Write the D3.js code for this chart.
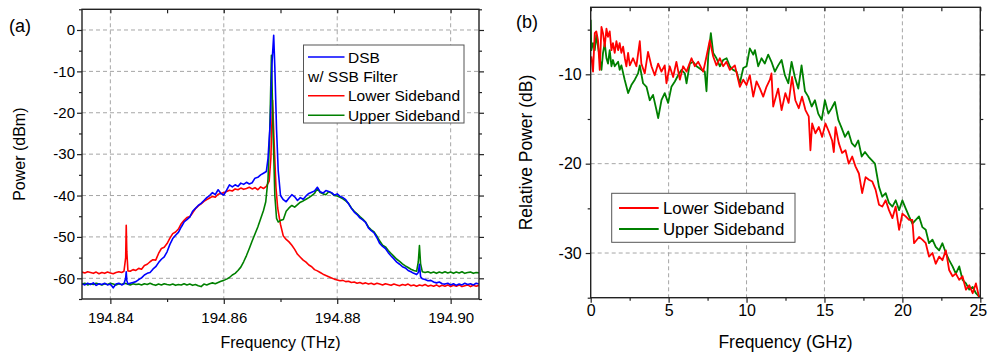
<!DOCTYPE html>
<html>
<head>
<meta charset="utf-8">
<script src="https://cdn.jsdelivr.net/npm/d3@7"></script>
<style>
body { margin: 0; background: #fff; }
svg { font-family: Arial, "Liberation Sans", sans-serif; }
.grid line { stroke: #a6a6a6; stroke-width: 1; stroke-dasharray: 4,3; }
.frame { fill: none; stroke: #222; stroke-width: 1.4; }
.tick line { stroke: #222; stroke-width: 1.2; }
.domain { display: none; }
.legend_box { fill: #fff; stroke: #555; stroke-width: 1; }
</style>
</head>
<body>
<div id="chart-area"></div>
<script>
//1. Data
// (a) optical spectra, [THz, dBm]
var dsb_a = [[194.8350,-61.3],[194.8355,-61.6],[194.8360,-61.2],[194.8365,-61.5],[194.8370,-61.1],[194.8375,-61.7],[194.8380,-61.3],[194.8385,-61.5],[194.8390,-61.2],[194.8395,-61.6],
    [194.8400,-61.4],[194.8405,-62.3],[194.8410,-61.4],[194.8415,-61.2],[194.8420,-61.6],[194.8424,-61.3],[194.8427,-60.0],[194.8428,-58.4],[194.8429,-60.5],[194.8431,-61.4],
    [194.8435,-61.2],[194.8440,-61.0],[194.8445,-60.8],[194.8450,-60.3],[194.8455,-59.9],[194.8460,-59.2],[194.8465,-58.8],[194.8470,-58.6],[194.8475,-57.8],[194.8480,-57.2],
    [194.8485,-56.2],[194.8490,-55.4],[194.8495,-54.8],[194.8500,-53.6],[194.8505,-51.8],[194.8510,-50.4],[194.8515,-49.6],[194.8520,-48.9],[194.8525,-47.6],[194.8530,-46.4],
    [194.8535,-45.8],[194.8540,-45.2],[194.8545,-43.8],[194.8550,-43.1],[194.8555,-42.4],[194.8560,-41.9],[194.8565,-41.2],[194.8570,-40.5],[194.8575,-40.0],[194.8580,-39.3],
    [194.8585,-39.8],[194.8590,-38.6],[194.8595,-39.5],[194.8600,-39.9],[194.8605,-38.7],[194.8610,-37.4],[194.8615,-37.9],[194.8620,-37.4],[194.8625,-37.8],[194.8630,-37.0],
    [194.8635,-37.3],[194.8640,-36.8],[194.8645,-37.2],[194.8650,-36.9],[194.8655,-35.8],[194.8660,-35.6],[194.8665,-35.0],[194.8670,-34.6],[194.8675,-34.2],[194.8678,-31.0],
    [194.8682,-22.0],[194.8685,-8.0],[194.8688,-1.3],[194.8690,-9.0],[194.8693,-24.0],[194.8696,-34.0],[194.8700,-40.0],[194.8705,-41.0],[194.8710,-41.5],[194.8715,-40.6],
    [194.8720,-39.8],[194.8725,-40.3],[194.8730,-41.2],[194.8735,-40.5],[194.8740,-40.9],[194.8745,-40.1],[194.8750,-39.5],[194.8755,-39.2],[194.8760,-38.9],[194.8765,-38.0],
    [194.8770,-39.1],[194.8775,-39.4],[194.8780,-38.8],[194.8785,-39.0],[194.8790,-39.3],[194.8795,-39.9],[194.8800,-39.6],[194.8805,-40.2],[194.8810,-40.5],[194.8815,-41.0],
    [194.8820,-42.0],[194.8825,-43.1],[194.8830,-44.0],[194.8835,-44.6],[194.8840,-45.4],[194.8845,-45.9],[194.8850,-46.5],[194.8855,-47.8],[194.8860,-48.5],[194.8865,-49.0],
    [194.8870,-50.2],[194.8875,-51.6],[194.8880,-52.3],[194.8885,-52.8],[194.8890,-53.8],[194.8895,-54.6],[194.8900,-55.3],[194.8905,-56.1],[194.8910,-56.6],[194.8915,-57.2],
    [194.8920,-57.5],[194.8925,-58.1],[194.8930,-58.4],[194.8935,-58.8],[194.8940,-59.1],[194.8943,-58.6],[194.8945,-56.6],[194.8947,-59.6],[194.8950,-60.1],[194.8955,-60.3],
    [194.8960,-60.6],[194.8965,-60.5],[194.8970,-60.9],[194.8975,-61.1],[194.8980,-60.9],[194.8985,-61.3],[194.8990,-61.4],[194.8995,-61.2],[194.9000,-61.6],[194.9005,-61.3],
    [194.9010,-61.7],[194.9015,-61.4],[194.9020,-61.6],[194.9025,-61.2],[194.9030,-61.5],[194.9035,-61.3],[194.9040,-61.6],[194.9045,-61.2],[194.9050,-61.4]];

var lsb_a = [[194.8350,-58.5],[194.8355,-58.7],[194.8360,-58.4],[194.8365,-58.6],[194.8370,-58.8],[194.8375,-58.5],[194.8380,-58.9],[194.8385,-58.6],[194.8390,-58.8],[194.8395,-58.5],
    [194.8400,-58.7],[194.8405,-58.9],[194.8410,-58.6],[194.8415,-58.4],[194.8420,-58.6],[194.8424,-58.3],[194.8427,-55.0],[194.8428,-47.2],[194.8429,-53.5],[194.8431,-58.2],
    [194.8435,-58.3],[194.8440,-57.9],[194.8445,-58.1],[194.8450,-57.6],[194.8455,-57.8],[194.8460,-56.9],[194.8465,-56.6],[194.8470,-56.0],[194.8475,-55.5],[194.8480,-55.6],
    [194.8485,-54.0],[194.8490,-52.8],[194.8495,-52.5],[194.8500,-51.6],[194.8505,-50.3],[194.8510,-49.2],[194.8515,-48.8],[194.8520,-48.1],[194.8525,-46.8],[194.8530,-46.0],
    [194.8535,-45.3],[194.8540,-45.1],[194.8545,-44.2],[194.8550,-43.2],[194.8555,-42.5],[194.8560,-42.0],[194.8565,-41.4],[194.8570,-41.0],[194.8575,-40.6],[194.8580,-40.2],
    [194.8585,-40.4],[194.8590,-39.7],[194.8595,-39.5],[194.8600,-39.3],[194.8605,-39.0],[194.8610,-38.7],[194.8615,-38.9],[194.8620,-38.4],[194.8625,-38.6],[194.8630,-38.2],
    [194.8635,-38.5],[194.8640,-38.3],[194.8645,-38.0],[194.8650,-38.4],[194.8655,-38.1],[194.8660,-38.6],[194.8665,-37.9],[194.8670,-38.3],[194.8675,-37.8],[194.8680,-36.5],
    [194.8683,-31.0],[194.8686,-17.0],[194.8689,-28.0],[194.8692,-38.0],[194.8695,-43.0],[194.8700,-47.0],[194.8705,-49.8],[194.8710,-50.6],[194.8715,-51.2],[194.8720,-52.0],
    [194.8725,-53.0],[194.8730,-54.2],[194.8735,-54.9],[194.8740,-55.6],[194.8745,-56.1],[194.8750,-56.8],[194.8755,-57.2],[194.8760,-57.9],[194.8765,-58.2],[194.8770,-58.6],
    [194.8775,-59.0],[194.8780,-59.3],[194.8785,-59.6],[194.8790,-59.9],[194.8795,-60.2],[194.8800,-60.4],[194.8805,-60.6],[194.8810,-60.5],[194.8815,-60.8],[194.8820,-60.7],
    [194.8825,-61.0],[194.8830,-60.9],[194.8835,-61.2],[194.8840,-61.0],[194.8845,-61.3],[194.8850,-61.1],[194.8855,-61.4],[194.8860,-61.2],[194.8865,-61.5],[194.8870,-61.2],
    [194.8875,-61.4],[194.8880,-61.6],[194.8885,-61.3],[194.8890,-61.5],[194.8895,-61.7],[194.8900,-61.4],[194.8905,-61.6],[194.8910,-61.8],[194.8915,-61.5],[194.8920,-61.7],
    [194.8925,-61.4],[194.8930,-61.8],[194.8935,-61.6],[194.8940,-61.9],[194.8945,-61.6],[194.8950,-61.8],[194.8955,-61.5],[194.8960,-61.9],[194.8965,-61.7],[194.8970,-61.9],
    [194.8975,-61.6],[194.8980,-62.0],[194.8985,-61.7],[194.8990,-61.9],[194.8995,-61.6],[194.9000,-62.0],[194.9005,-61.7],[194.9010,-61.9],[194.9015,-61.6],[194.9020,-62.0],
    [194.9025,-61.8],[194.9030,-61.6],[194.9035,-62.0],[194.9040,-61.7],[194.9045,-61.9],[194.9050,-61.7]];

var usb_a = [[194.8350,-61.4],[194.8355,-61.2],[194.8360,-61.6],[194.8365,-61.3],[194.8370,-61.5],[194.8375,-61.2],[194.8380,-61.4],[194.8385,-61.6],[194.8390,-61.3],[194.8395,-61.5],
    [194.8400,-61.2],[194.8405,-61.4],[194.8410,-61.6],[194.8415,-61.3],[194.8420,-61.5],[194.8425,-61.2],[194.8430,-61.4],[194.8435,-61.6],[194.8440,-61.3],[194.8445,-61.5],
    [194.8450,-61.4],[194.8455,-61.6],[194.8460,-61.3],[194.8465,-61.5],[194.8470,-61.2],[194.8475,-61.5],[194.8480,-61.7],[194.8485,-61.4],[194.8490,-61.6],[194.8495,-61.3],
    [194.8500,-61.5],[194.8505,-61.6],[194.8510,-61.4],[194.8515,-61.7],[194.8520,-61.5],[194.8525,-61.6],[194.8530,-61.3],[194.8535,-61.6],[194.8540,-61.4],[194.8545,-61.7],
    [194.8550,-61.5],[194.8555,-61.8],[194.8560,-62.0],[194.8565,-61.4],[194.8570,-61.6],[194.8575,-61.3],[194.8580,-61.1],[194.8585,-61.3],[194.8590,-61.0],[194.8595,-60.7],
    [194.8600,-60.5],[194.8605,-60.2],[194.8610,-59.8],[194.8615,-59.2],[194.8620,-58.8],[194.8625,-58.1],[194.8630,-57.3],[194.8635,-56.0],[194.8640,-54.5],[194.8645,-52.8],
    [194.8650,-51.0],[194.8655,-49.3],[194.8660,-47.6],[194.8665,-45.6],[194.8670,-43.6],[194.8674,-41.5],[194.8678,-36.0],[194.8681,-25.0],[194.8684,-6.1],[194.8687,-25.0],
    [194.8690,-40.0],[194.8693,-45.5],[194.8696,-46.4],[194.8700,-46.0],[194.8705,-45.8],[194.8710,-43.8],[194.8715,-43.0],[194.8720,-42.4],[194.8725,-42.8],[194.8730,-42.2],
    [194.8735,-41.6],[194.8740,-41.3],[194.8745,-40.9],[194.8750,-40.5],[194.8755,-40.0],[194.8760,-39.5],[194.8765,-38.3],[194.8770,-39.3],[194.8775,-39.6],[194.8780,-39.8],
    [194.8785,-39.1],[194.8790,-39.4],[194.8795,-40.0],[194.8800,-40.1],[194.8805,-40.4],[194.8810,-40.8],[194.8815,-41.3],[194.8820,-41.9],[194.8825,-43.0],[194.8830,-43.8],
    [194.8835,-44.4],[194.8840,-45.1],[194.8845,-45.7],[194.8850,-46.4],[194.8855,-47.6],[194.8860,-48.3],[194.8865,-48.8],[194.8870,-49.8],[194.8875,-51.0],[194.8880,-52.0],
    [194.8885,-52.4],[194.8890,-53.3],[194.8895,-54.0],[194.8900,-54.7],[194.8905,-55.4],[194.8910,-55.9],[194.8915,-56.5],[194.8920,-57.0],[194.8925,-57.4],[194.8930,-57.8],
    [194.8935,-58.1],[194.8940,-58.3],[194.8943,-56.0],[194.8945,-52.1],[194.8947,-56.5],[194.8950,-58.4],[194.8955,-58.6],[194.8960,-58.4],[194.8965,-58.7],[194.8970,-58.5],
    [194.8975,-58.8],[194.8980,-58.5],[194.8985,-58.7],[194.8990,-58.4],[194.8995,-58.7],[194.9000,-58.5],[194.9005,-58.8],[194.9010,-58.5],[194.9015,-58.7],[194.9020,-58.4],
    [194.9025,-58.8],[194.9030,-58.6],[194.9035,-58.5],[194.9040,-58.8],[194.9045,-58.6],[194.9050,-58.7]];

// (b) sideband response, [GHz, dB]
var lsb_b = [[0.04,-8.0],[0.15,-9.7],[0.26,-5.4],[0.36,-5.2],[0.47,-6.2],[0.58,-9.5],[0.69,-4.7],[0.79,-5.4],[0.90,-6.9],[1.01,-4.9],
    [1.11,-5.8],[1.22,-5.2],[1.33,-7.3],[1.43,-6.5],[1.54,-7.6],[1.65,-6.3],[1.76,-7.3],[1.86,-6.5],[1.97,-7.6],[2.08,-6.9],
    [2.19,-8.2],[2.29,-9.1],[2.40,-7.6],[2.51,-9.0],[2.72,-8.2],[2.93,-9.1],[3.15,-6.3],[3.25,-8.8],[3.47,-9.9],[3.68,-7.5],
    [3.90,-9.1],[4.11,-10.1],[4.33,-8.8],[4.54,-9.7],[4.75,-9.0],[4.86,-11.0],[5.07,-9.1],[5.29,-10.3],[5.50,-8.6],[5.72,-10.6],
    [5.93,-9.1],[6.15,-9.7],[6.47,-8.2],[6.68,-9.1],[6.90,-8.6],[7.22,-9.7],[7.43,-8.0],[7.64,-6.2],[7.86,-8.0],[8.07,-9.0],
    [8.29,-8.2],[8.50,-9.1],[8.71,-8.6],[8.93,-9.5],[9.25,-9.0],[9.57,-11.4],[9.79,-10.6],[10.00,-11.2],[10.21,-10.1],[10.43,-12.5],
    [10.64,-10.8],[10.86,-11.6],[11.07,-12.5],[11.28,-11.4],[11.50,-10.6],[11.60,-9.9],[11.71,-13.6],[11.82,-12.9],[12.03,-11.6],[12.25,-14.0],
    [12.49,-12.1],[12.70,-13.2],[12.92,-10.3],[13.13,-12.9],[13.35,-13.8],[13.56,-12.5],[13.78,-14.0],[13.99,-14.7],[14.10,-18.5],[14.21,-15.5],
    [14.42,-16.6],[14.64,-15.9],[14.85,-17.0],[15.06,-15.5],[15.28,-16.4],[15.49,-17.4],[15.60,-18.7],[15.71,-15.9],[15.92,-17.7],[16.13,-18.8],
    [16.35,-18.5],[16.56,-20.0],[16.78,-19.2],[16.99,-20.3],[17.21,-21.1],[17.42,-23.3],[17.64,-21.5],[17.85,-21.8],[18.07,-22.0],[18.28,-22.9],
    [18.50,-24.6],[18.71,-24.8],[18.93,-24.1],[19.14,-25.2],[19.36,-26.1],[19.57,-24.8],[19.79,-27.4],[20.00,-25.6],[20.21,-25.9],[20.43,-26.3],
    [20.64,-26.3],[20.75,-28.9],[21.07,-28.2],[21.28,-28.5],[21.50,-28.9],[21.71,-30.4],[21.93,-30.0],[22.14,-31.2],[22.36,-30.4],[22.57,-30.8],
    [22.79,-29.7],[23.00,-31.9],[23.22,-32.6],[23.43,-32.3],[23.65,-33.0],[23.86,-32.6],[24.08,-34.1],[24.29,-33.6],[24.51,-34.5],[24.72,-33.4],
    [24.94,-35.1]];

var usb_b = [[0.00,-3.9],[0.04,-7.3],[0.15,-6.5],[0.26,-7.3],[0.36,-5.6],[0.47,-6.9],[0.58,-8.2],[0.69,-9.5],[0.79,-7.6],[0.90,-6.5],
    [1.01,-8.2],[1.11,-8.8],[1.22,-7.3],[1.33,-9.1],[1.43,-8.4],[1.54,-9.1],[1.76,-8.6],[1.86,-9.5],[1.97,-9.0],[2.18,-10.6],
    [2.40,-12.1],[2.61,-11.2],[2.83,-10.6],[3.04,-9.9],[3.15,-9.0],[3.36,-11.0],[3.58,-11.4],[3.79,-12.9],[4.00,-12.3],[4.22,-14.0],
    [4.33,-14.9],[4.54,-12.9],[4.75,-12.1],[4.97,-13.2],[5.18,-11.4],[5.40,-10.8],[5.61,-10.1],[5.82,-9.5],[6.04,-9.9],[6.15,-11.0],
    [6.36,-8.8],[6.57,-8.6],[6.79,-9.1],[7.11,-9.5],[7.32,-9.7],[7.43,-11.9],[7.54,-8.0],[7.71,-5.4],[7.86,-7.6],[8.07,-8.2],
    [8.29,-9.1],[8.50,-8.4],[8.72,-8.2],[8.93,-9.1],[9.14,-9.5],[9.36,-9.7],[9.57,-11.0],[9.79,-9.3],[10.00,-9.1],[10.21,-7.1],
    [10.43,-7.8],[10.54,-7.3],[10.75,-9.1],[10.96,-8.2],[11.17,-8.8],[11.39,-7.8],[11.60,-8.6],[11.82,-9.7],[12.03,-9.0],[12.25,-8.4],
    [12.46,-10.1],[12.68,-11.0],[12.89,-8.6],[13.10,-10.3],[13.32,-11.6],[13.53,-9.0],[13.75,-11.9],[13.96,-12.5],[14.18,-13.6],[14.39,-12.9],
    [14.60,-14.4],[14.82,-15.1],[15.03,-12.9],[15.25,-14.4],[15.46,-13.8],[15.67,-13.1],[15.89,-15.1],[16.10,-16.0],[16.32,-17.0],[16.53,-16.4],
    [16.75,-17.7],[16.96,-18.1],[17.17,-17.4],[17.39,-19.2],[17.60,-18.7],[17.82,-19.2],[18.03,-19.6],[18.24,-20.0],[18.35,-21.1],[18.50,-22.6],
    [18.71,-23.7],[18.93,-23.3],[19.14,-24.4],[19.36,-24.8],[19.57,-24.1],[19.79,-25.2],[20.00,-24.1],[20.21,-25.0],[20.43,-25.9],[20.64,-26.7],
    [20.86,-26.3],[21.07,-25.9],[21.28,-27.1],[21.50,-27.4],[21.71,-28.9],[21.93,-28.5],[22.14,-29.3],[22.36,-29.7],[22.57,-28.9],[22.79,-30.0],
    [23.00,-30.8],[23.22,-31.5],[23.43,-32.3],[23.65,-31.5],[23.86,-33.0],[24.08,-33.4],[24.29,-34.1],[24.51,-33.8],[24.72,-34.5],[24.94,-34.9]];

// tick values
var x_ticks_a = [194.84, 194.86, 194.88, 194.90];
var x_minor_a = [194.85, 194.87, 194.89];
var y_ticks_a = [0, -10, -20, -30, -40, -50, -60];
var y_minor_a = [5, -5, -15, -25, -35, -45, -55, -65];
var x_ticks_b = [0, 5, 10, 15, 20, 25];
var x_minor_b = [2.5, 7.5, 12.5, 17.5, 22.5];
var y_ticks_b = [-10, -20, -30];
var y_minor_b = [-5, -15, -25, -35];

var legend_a = [
    {label: "DSB", color: "#0000ff"},
    {label: "w/ SSB Filter", color: null},
    {label: "Lower Sideband", color: "#ff0000"},
    {label: "Upper Sideband", color: "#008000"}
];
var legend_b = [
    {label: "Lower Sideband", color: "#ff0000"},
    {label: "Upper Sideband", color: "#008000"}
];

//2. SVG canvas
var svg = d3.select("#chart-area").append("svg")
    .attr("width", 988)
    .attr("height", 356);

//3. One panel: grid, traces, frame, axes
function draw_panel(p) {
    var x = d3.scaleLinear().domain(p.x_domain).range([p.left, p.right]);
    var y = d3.scaleLinear().domain(p.y_domain).range([p.bottom, p.top]);
    var g = svg.append("g").attr("id", p.id);

    // 3.1 grid
    var grid = g.append("g").attr("class", "grid");
    grid.selectAll(".gx").data(p.x_grid).join("line")
        .attr("x1", d => x(d)).attr("x2", d => x(d))
        .attr("y1", p.top).attr("y2", p.bottom);
    grid.selectAll(".gy").data(p.y_grid).join("line")
        .attr("class", "gy")
        .attr("x1", p.left).attr("x2", p.right)
        .attr("y1", d => y(d)).attr("y2", d => y(d));

    // 3.2 traces
    g.append("clipPath").attr("id", p.id + "_clip")
        .append("rect")
        .attr("x", p.left).attr("y", p.top)
        .attr("width", p.right - p.left).attr("height", p.bottom - p.top);
    var line = d3.line().x(d => x(d[0])).y(d => y(d[1]));
    p.series.forEach(function (s) {
        g.append("path")
            .datum(s.data)
            .attr("clip-path", "url(#" + p.id + "_clip)")
            .attr("fill", "none")
            .attr("stroke", s.color)
            .attr("stroke-width", p.line_width)
            .attr("stroke-linejoin", "round")
            .attr("d", line);
    });

    // 3.3 axes
    function style_axis(sel) {
        sel.attr("font-family", null).attr("font-size", null);
        sel.selectAll("text")
            .attr("fill", "#000")
            .style("font-size", p.tick_font + "px");
    }
    var x_axis = g.append("g").attr("transform", "translate(0," + p.bottom + ")")
        .call(d3.axisBottom(x).tickValues(p.x_ticks).tickSize(5).tickPadding(p.x_pad).tickFormat(p.x_format))
        .call(style_axis);
    // keep the last label inside the picture
    x_axis.selectAll(".tick text").filter(d => d === p.x_ticks[p.x_ticks.length - 1])
        .attr("dx", p.last_dx || 0);
    g.append("g").attr("transform", "translate(0," + p.bottom + ")")
        .call(d3.axisBottom(x).tickValues(p.x_minor).tickSize(3).tickFormat(""));
    g.append("g").attr("transform", "translate(0," + p.top + ")")
        .call(d3.axisTop(x).tickValues(p.x_ticks.concat(p.x_minor)).tickSize(-4).tickFormat(""));
    g.append("g").attr("transform", "translate(" + p.left + ",0)")
        .call(d3.axisLeft(y).tickValues(p.y_ticks).tickSize(5).tickPadding(p.y_pad).tickFormat(d => String(d)))
        .call(style_axis);
    g.append("g").attr("transform", "translate(" + p.left + ",0)")
        .call(d3.axisLeft(y).tickValues(p.y_minor).tickSize(3).tickFormat(""));
    g.append("g").attr("transform", "translate(" + p.right + ",0)")
        .call(d3.axisRight(y).tickValues(p.y_ticks).tickSize(5).tickFormat(""));
    g.append("g").attr("transform", "translate(" + p.right + ",0)")
        .call(d3.axisRight(y).tickValues(p.y_minor).tickSize(3).tickFormat(""));

    g.append("rect").attr("class", "frame")
        .attr("x", p.left).attr("y", p.top)
        .attr("width", p.right - p.left).attr("height", p.bottom - p.top);

    // 3.4 labels
    g.append("text")
        .attr("x", (p.left + p.right) / 2)
        .attr("y", 348)
        .attr("text-anchor", "middle")
        .attr("font-size", p.title_font + "px")
        .text(p.x_label);
    g.append("text")
        .attr("transform", "translate(" + p.y_label_x + "," + ((p.top + p.bottom) / 2) + ") rotate(-90)")
        .attr("text-anchor", "middle")
        .attr("font-size", p.title_font + "px")
        .text(p.y_label);
    g.append("text")
        .attr("x", p.tag_x).attr("y", p.tag_y)
        .attr("font-size", "18px")
        .text(p.tag);

    // 3.5 legend
    var lg = g.append("g").attr("transform", "translate(" + p.legend.x + "," + p.legend.y + ")");
    lg.append("rect").attr("class", "legend_box")
        .attr("width", p.legend.w).attr("height", p.legend.h);
    p.legend.rows.forEach(function (r, i) {
        var cy = p.legend.first + i * p.legend.step;
        if (r.color) {
            lg.append("line")
                .attr("x1", p.legend.line0).attr("x2", p.legend.line1)
                .attr("y1", cy).attr("y2", cy)
                .attr("stroke", r.color).attr("stroke-width", p.line_width);
        }
        lg.append("text")
            .attr("x", r.color ? p.legend.text_x : p.legend.line0)
            .attr("y", cy)
            .attr("dy", "0.36em")
            .attr("font-size", p.legend.font + "px")
            .text(r.label);
    });
}

//4. Panel (a)
draw_panel({
    id: "pa", left: 82, right: 479, top: 9.3, bottom: 299,
    x_domain: [194.835, 194.905], y_domain: [-65, 5],
    x_grid: x_ticks_a, y_grid: y_ticks_a,
    x_ticks: x_ticks_a, x_minor: x_minor_a, y_ticks: y_ticks_a, y_minor: y_minor_a,
    x_format: d3.format(".2f"), x_pad: 8, y_pad: 2, tick_font: 15,
    line_width: 1.6,
    series: [
        {data: lsb_a, color: "#ff0000"},
        {data: usb_a, color: "#008000"},
        {data: dsb_a, color: "#0000ff"}
    ],
    x_label: "Frequency (THz)", y_label: "Power (dBm)", y_label_x: 25, title_font: 16,
    tag: "(a)", tag_x: 9, tag_y: 32,
    legend: {x: 303.5, y: 45, w: 160.5, h: 78, first: 12, step: 19.4,
        line0: 4.5, line1: 41, text_x: 44.5, font: 15.5, rows: legend_a}
});

//5. Panel (b)
draw_panel({
    id: "pb", left: 590.7, right: 980.3, top: 7.3, bottom: 297.7,
    x_domain: [0, 25], y_domain: [-35, -2.5],
    x_grid: [5, 10, 15, 20, 25], y_grid: y_ticks_b,
    x_ticks: x_ticks_b, x_minor: x_minor_b, y_ticks: y_ticks_b, y_minor: y_minor_b,
    x_format: d => String(d), x_pad: 2, y_pad: 4, tick_font: 16, last_dx: -2.5,
    line_width: 1.8,
    series: [
        {data: usb_b, color: "#008000"},
        {data: lsb_b, color: "#ff0000"}
    ],
    x_label: "Frequency (GHz)", y_label: "Relative Power (dB)", y_label_x: 532, title_font: 17.5,
    tag: "(b)", tag_x: 516, tag_y: 28,
    legend: {x: 611.7, y: 193.3, w: 183.3, h: 49, first: 14.7, step: 21,
        line0: 7.3, line1: 47, text_x: 51.3, font: 16.8, rows: legend_b}
});
</script>
</body>
</html>
